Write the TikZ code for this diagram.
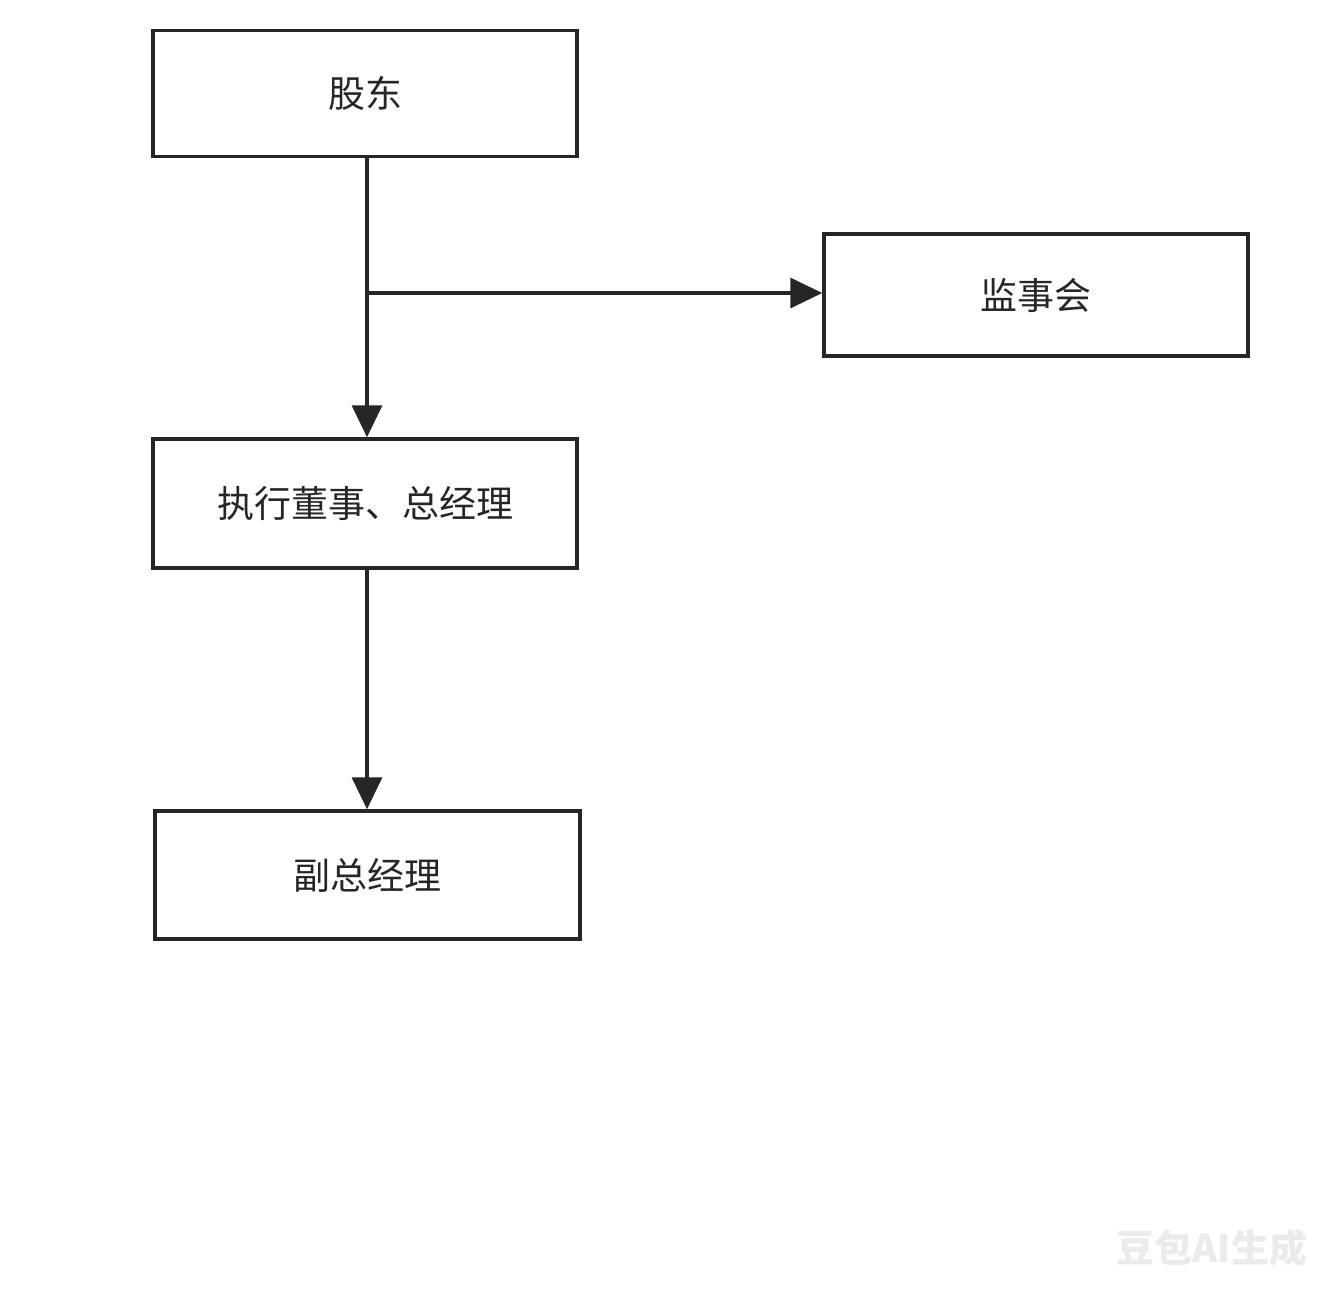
\documentclass[tikz,border=0pt]{standalone}
\usepackage{fontspec}
\newfontfamily\cjk{Noto Sans CJK SC}
\usetikzlibrary{arrows.meta}
\begin{document}
\begin{tikzpicture}[x=1pt,y=-1pt,
  box/.style={draw=black!85,line width=3.5pt,minimum width=424pt,minimum height=126pt,inner sep=0pt,font=\cjk\fontsize{37}{42}\selectfont,text=black!85},
  arr/.style={line width=3.5pt,draw=black!85,-{Triangle[length=32pt,width=30pt]}}]
\useasboundingbox[fill=white] (0,0) rectangle (1334,1294);
\node[box] (gd) at (365,93.5) {股东};
\node[box,minimum height=122pt] (js) at (1036,295) {监事会};
\node[box,minimum height=129pt] (zx) at (365,503.5) {执行董事、总经理};
\node[box,minimum height=128pt,minimum width=425pt] (fz) at (367.5,875) {副总经理};
\coordinate (b) at (367,293);
\draw[arr] (gd.south -| b) -- (zx.north -| b);
\draw[arr] (b) -- (b -| js.west);
\draw[arr] (zx.south -| b) -- (fz.north -| b);
\node[font=\cjk\bfseries\fontsize{38}{40}\selectfont,text=black!8] (wm) at (1212,1248) {豆包AI生成};
\end{tikzpicture}
\end{document}
